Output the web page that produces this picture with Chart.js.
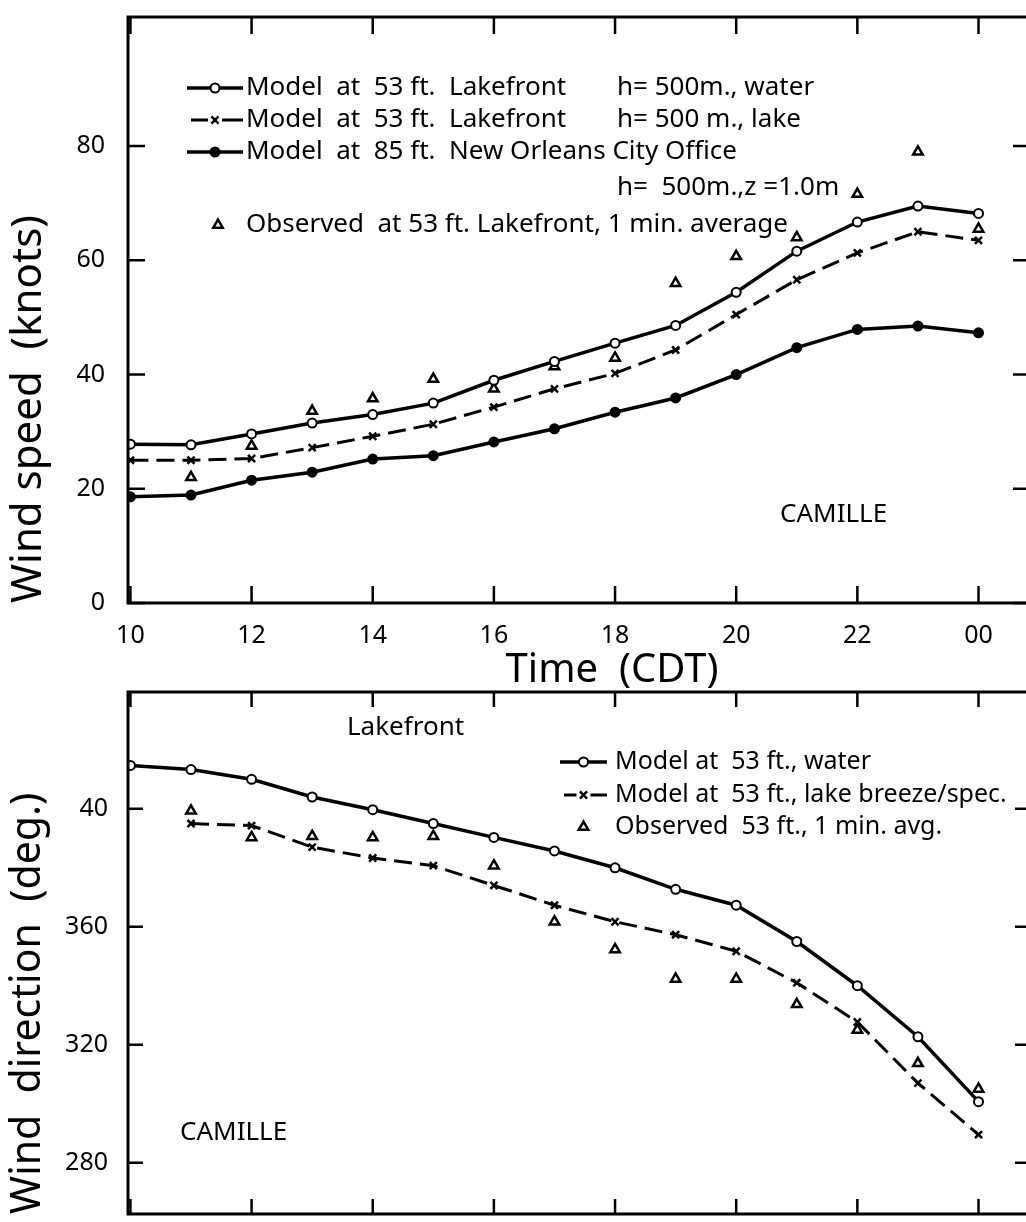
<!DOCTYPE html>
<html>
<head>
<meta charset="utf-8">
<script src="https://cdn.jsdelivr.net/npm/chart.js@4.4.1/dist/chart.umd.min.js"></script>
<style>
  html, body { margin: 0; padding: 0; background: #fff; overflow: hidden; width: 1026px; height: 1222px; }
  canvas { position: absolute; left: 0; }
  #speedChart { top: 0; }
  #dirChart { top: 660px; }
</style>
</head>
<body>
<canvas id="speedChart" width="1040" height="700"></canvas>
<canvas id="dirChart" width="1040" height="562"></canvas>
<script>
// hours (CDT), 24 = 00
const hours = [10, 11, 12, 13, 14, 15, 16, 17, 18, 19, 20, 21, 22, 23, 24];
const timeTicks = [10, 12, 14, 16, 18, 20, 22, 24];
const timeLabels = ['10', '12', '14', '16', '18', '20', '22', '00'];

// wind speed (knots)
const speedTicks = [0, 20, 40, 60, 80];
const speedWater = [27.8, 27.7, 29.6, 31.5, 33.0, 35.0, 39.0, 42.3, 45.5, 48.6, 54.4, 61.6, 66.7, 69.5, 68.2];
const speedLake = [25.0, 25.0, 25.3, 27.2, 29.2, 31.3, 34.3, 37.5, 40.2, 44.3, 50.5, 56.6, 61.3, 65.0, 63.5];
const speedCity = [18.6, 18.9, 21.5, 22.9, 25.2, 25.8, 28.2, 30.5, 33.4, 35.9, 40.0, 44.7, 47.9, 48.5, 47.3];
const speedObs = [null, 22.0, 27.5, 33.6, 35.8, 39.2, 37.5, 41.4, 42.9, 56.0, 60.7, 64.0, 71.6, 79.0, 65.5];

// wind direction (deg, values above 360 wrap)
const dirTicks = [280, 320, 360, 400];
const dirLabels = ['280', '320', '360', '40'];
const dirWater = [414.7, 413.3, 410.0, 404.0, 399.7, 395.0, 390.3, 385.7, 380.0, 372.7, 367.3, 355.0, 340.0, 322.7, 300.7];
const dirLake = [null, 395.0, 394.3, 387.0, 383.3, 380.7, 374.0, 367.3, 361.7, 357.3, 351.7, 341.0, 327.7, 307.0, 289.5];
const dirObs = [null, 399.3, 390.3, 390.7, 390.3, 390.7, 380.7, 361.7, 352.3, 342.3, 342.3, 333.7, 325.0, 313.7, 305.0];

const FONT = "'Noto Sans', sans-serif";

function pts(values) {
    return hours.map((h, i) => ({ x: h, y: values[i] }));
}

// box round the plot with inward ticks on all four sides
const frameTicks = {
    id: 'frameTicks',
    afterDraw(chart, args, opts) {
        const { ctx, chartArea: a, scales: { x, y } } = chart;
        const len = opts.len || 16;
        ctx.save();
        ctx.strokeStyle = '#000';
        ctx.lineWidth = 3;
        ctx.strokeRect(a.left, a.top, a.right - a.left, a.bottom - a.top);
        ctx.lineWidth = 2.5;
        ctx.beginPath();
        x.ticks.forEach(t => {
            const px = x.getPixelForValue(t.value);
            ctx.moveTo(px, a.bottom); ctx.lineTo(px, a.bottom - len);
            ctx.moveTo(px, a.top); ctx.lineTo(px, a.top + len);
        });
        y.ticks.forEach(t => {
            const py = y.getPixelForValue(t.value);
            ctx.moveTo(a.left, py); ctx.lineTo(a.left + len, py);
            ctx.moveTo(a.right, py); ctx.lineTo(a.right - len, py);
        });
        ctx.stroke();
        ctx.restore();
    }
};

// legend rows inside the plot + free text
const notes = {
    id: 'notes',
    afterDraw(chart, args, opts) {
        const ctx = chart.ctx;
        ctx.save();
        ctx.fillStyle = '#000';
        ctx.strokeStyle = '#000';
        ctx.textBaseline = 'middle';
        ctx.textAlign = 'left';
        const lg = opts.legend;
        lg.rows.forEach(r => {
            ctx.font = lg.size + 'px ' + FONT;
            if (r.ds != null) {
                const ds = chart.data.datasets[r.ds];
                const mid = (lg.from + lg.to) / 2;
                if (ds.showLine !== false) {
                    ctx.lineWidth = ds.borderWidth;
                    ctx.beginPath();
                    if (ds.borderDash) {
                        ctx.moveTo(lg.from + 4, r.y); ctx.lineTo(mid - 7, r.y);
                        ctx.moveTo(mid + 7, r.y); ctx.lineTo(lg.to, r.y);
                    } else {
                        ctx.moveTo(lg.from, r.y); ctx.lineTo(lg.to, r.y);
                    }
                    ctx.stroke();
                }
                ctx.fillStyle = ds.pointBackgroundColor;
                ctx.lineWidth = ds.pointBorderWidth;
                Chart.helpers.drawPoint(ctx, {
                    pointStyle: ds.pointStyle, radius: ds.pointRadius, rotation: 0,
                    borderWidth: ds.pointBorderWidth
                }, mid + (r.dx || 0), r.y);
                ctx.fillStyle = '#000';
                ctx.fillText(ds.label, lg.textX, r.y);
            }
            if (r.note) ctx.fillText(r.note, lg.noteX, r.y);
        });
        (opts.texts || []).forEach(t => {
            ctx.font = t.size + 'px ' + FONT;
            ctx.textAlign = t.align || 'left';
            ctx.textBaseline = t.baseline || 'middle';
            ctx.fillText(t.text, t.x, t.y);
        });
        ctx.restore();
    }
};

function xScale(showLabels, height) {
    return {
        type: 'linear',
        min: 9.96,
        max: 24.85,
        afterBuildTicks: s => { s.ticks = timeTicks.map(v => ({ value: v })); },
        afterFit: s => { s.height = height; s.paddingLeft = 0; s.paddingRight = 0; },
        grid: { display: false, drawTicks: false },
        border: { display: false },
        ticks: {
            display: showLabels,
            autoSkip: false,
            maxRotation: 0,
            padding: 18,
            color: '#000',
            font: { family: FONT, size: 25 },
            callback: (v, i) => timeLabels[i]
        }
    };
}

function yFit(s) {
    s.width = 128;
    s.paddingTop = 0;
    s.paddingBottom = 0;
}

new Chart(document.getElementById('speedChart').getContext('2d'), {
    type: 'line',
    data: {
        datasets: [{
            label: 'Model  at  53 ft.  Lakefront',
            data: pts(speedWater),
            borderColor: '#000',
            borderWidth: 3.5,
            pointStyle: 'circle',
            pointRadius: 4.5,
            pointBackgroundColor: '#fff',
            pointBorderColor: '#000',
            pointBorderWidth: 2
        }, {
            label: 'Model  at  53 ft.  Lakefront',
            data: pts(speedLake),
            borderColor: '#000',
            borderWidth: 3,
            borderDash: [18, 8],
            pointStyle: 'crossRot',
            pointRadius: 5,
            pointBackgroundColor: '#000',
            pointBorderColor: '#000',
            pointBorderWidth: 2.5
        }, {
            label: 'Model  at  85 ft.  New Orleans City Office',
            data: pts(speedCity),
            borderColor: '#000',
            borderWidth: 3.5,
            pointStyle: 'circle',
            pointRadius: 4.5,
            pointBackgroundColor: '#000',
            pointBorderColor: '#000',
            pointBorderWidth: 2
        }, {
            label: 'Observed  at 53 ft. Lakefront, 1 min. average',
            data: pts(speedObs),
            showLine: false,
            borderColor: '#000',
            pointStyle: 'triangle',
            pointRadius: 5.5,
            pointBackgroundColor: '#fff',
            pointBorderColor: '#000',
            pointBorderWidth: 2.5
        }]
    },
    options: {
        responsive: false,
        animation: false,
        layout: { padding: { top: 17, right: 10, left: 0, bottom: 0 } },
        plugins: {
            legend: { display: false },
            tooltip: { enabled: false },
            frameTicks: { len: 17 },
            notes: {
                legend: {
                    size: 26, from: 187, to: 243, textX: 246, noteX: 617,
                    rows: [
                        { ds: 0, y: 88, note: 'h= 500m., water' },
                        { ds: 1, y: 120, note: 'h= 500 m., lake' },
                        { ds: 2, y: 152 },
                        { ds: null, y: 188, note: 'h=  500m.,z =1.0m' },
                        { ds: 3, y: 225, dx: 3 }
                    ]
                },
                texts: [
                    { text: 'CAMILLE', x: 780, y: 515, size: 26 },
                    { text: 'Time  (CDT)', x: 612, y: 682, size: 40, align: 'center', baseline: 'alphabetic' }
                ]
            }
        },
        scales: {
            x: xScale(true, 97),
            y: {
                type: 'linear',
                min: 0,
                max: 102.6,
                afterBuildTicks: s => { s.ticks = speedTicks.map(v => ({ value: v })); },
                afterFit: yFit,
                grid: { display: false, drawTicks: false },
                border: { display: false },
                ticks: { padding: 23, color: '#000', font: { family: FONT, size: 25 } },
                title: {
                    display: true,
                    text: 'Wind speed  (knots)',
                    align: 'start',
                    color: '#000',
                    font: { family: FONT, size: 42 },
                    padding: { top: 4, bottom: 0 }
                }
            }
        }
    },
    plugins: [frameTicks, notes]
});

new Chart(document.getElementById('dirChart').getContext('2d'), {
    type: 'line',
    data: {
        datasets: [{
            label: 'Model at  53 ft., water',
            data: pts(dirWater),
            borderColor: '#000',
            borderWidth: 3.5,
            pointStyle: 'circle',
            pointRadius: 4.5,
            pointBackgroundColor: '#fff',
            pointBorderColor: '#000',
            pointBorderWidth: 2
        }, {
            label: 'Model at  53 ft., lake breeze/spec.',
            data: pts(dirLake),
            borderColor: '#000',
            borderWidth: 3,
            borderDash: [18, 8],
            pointStyle: 'crossRot',
            pointRadius: 5,
            pointBackgroundColor: '#000',
            pointBorderColor: '#000',
            pointBorderWidth: 2.5
        }, {
            label: 'Observed  53 ft., 1 min. avg.',
            data: pts(dirObs),
            showLine: false,
            borderColor: '#000',
            pointStyle: 'triangle',
            pointRadius: 5.5,
            pointBackgroundColor: '#fff',
            pointBorderColor: '#000',
            pointBorderWidth: 2.5
        }]
    },
    options: {
        responsive: false,
        animation: false,
        layout: { padding: { top: 32, right: 10, left: 0, bottom: 0 } },
        plugins: {
            legend: { display: false },
            tooltip: { enabled: false },
            frameTicks: { len: 15 },
            notes: {
                legend: {
                    size: 25, from: 560, to: 607, textX: 615, noteX: 0,
                    rows: [
                        { ds: 0, y: 102 },
                        { ds: 1, y: 135 },
                        { ds: 2, y: 167 }
                    ]
                },
                texts: [
                    { text: 'Lakefront', x: 347, y: 68, size: 26 },
                    { text: 'CAMILLE', x: 180, y: 473, size: 26 }
                ]
            }
        },
        scales: {
            x: xScale(false, 2),
            y: {
                type: 'linear',
                min: 262.6,
                max: 439.6,
                afterBuildTicks: s => { s.ticks = dirTicks.map(v => ({ value: v })); },
                afterFit: yFit,
                grid: { display: false, drawTicks: false },
                border: { display: false },
                ticks: {
                    padding: 20, color: '#000', font: { family: FONT, size: 25 },
                    callback: (v, i) => dirLabels[i]
                },
                title: {
                    display: true,
                    text: 'Wind  direction  (deg.)',
                    align: 'start',
                    color: '#000',
                    font: { family: FONT, size: 41 },
                    padding: { top: 4, bottom: 0 }
                }
            }
        }
    },
    plugins: [frameTicks, notes]
});
</script>
</body>
</html>
